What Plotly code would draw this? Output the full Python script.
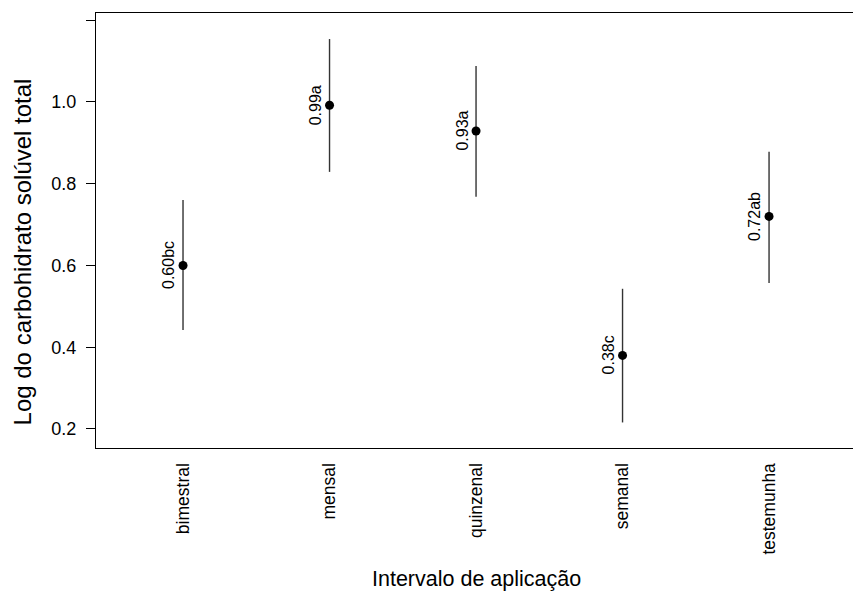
import plotly.graph_objects as go

categories = ["bimestral", "mensal", "quinzenal", "semanal", "testemunha"]
means = [0.600, 0.992, 0.929, 0.380, 0.720]
lower = [0.442, 0.829, 0.768, 0.216, 0.557]
upper = [0.760, 1.154, 1.088, 0.543, 0.878]
letters = ["bc", "a", "a", "c", "ab"]
ytick_vals = [0.2, 0.4, 0.6, 0.8, 1.0, 1.2]
ytick_text = ["0.2", "0.4", "0.6", "0.8", "1.0", ""]

FONT = "Liberation Sans, Arial, sans-serif"
xs = list(range(len(categories)))

fig = go.Figure()
fig.add_trace(go.Scatter(
    x=xs, y=means, mode="markers",
    marker=dict(color="black", size=9),
    error_y=dict(type="data", symmetric=False,
                 array=[u - m for u, m in zip(upper, means)],
                 arrayminus=[m - l for m, l in zip(means, lower)],
                 width=0, thickness=1.4, color="#333333"),
    showlegend=False, hoverinfo="skip",
))

for x, m, l in zip(xs, means, letters):
    fig.add_annotation(x=x, y=m, xref="x", yref="y", text=f"{m:.2f}{l}",
                       textangle=-90, showarrow=False, xanchor="right",
                       yanchor="middle", xshift=-4,
                       font=dict(family=FONT, size=16, color="black"))

fig.add_annotation(xref="paper", yref="paper", x=-0.0975, y=0.45, text="Log do carbohidrato solúvel total",
                   textangle=-90, showarrow=False, xanchor="center", yanchor="middle",
                   font=dict(family=FONT, size=24, color="black"))
fig.add_annotation(x=2, xref="x", y=(592 - 579 - 144) / (592 - 13 - 144), yref="paper",
                   text="Intervalo de aplicação",
                   showarrow=False, xanchor="center", yanchor="middle",
                   font=dict(family=FONT, size=21.5, color="black"))

fig.update_xaxes(range=[-0.594, 4.573], tickvals=xs, ticktext=categories,
                 tickangle=-90, ticks="", showline=True, linecolor="black",
                 linewidth=1.3, mirror=True, showgrid=False, zeroline=False,
                 tickfont=dict(family=FONT, size=17.5, color="black"),
                 ticklabelstandoff=7)
fig.update_yaxes(range=[0.1535, 1.2177], tickvals=ytick_vals, ticktext=ytick_text,
                 ticks="outside", ticklen=9, tickwidth=1.2, tickcolor="black",
                 showline=True, linecolor="black", linewidth=1.3, mirror=False,
                 showgrid=False, zeroline=False,
                 tickfont=dict(family=FONT, size=18, color="black"),
                 ticklabelstandoff=6)

fig.update_layout(width=853, height=592, margin=dict(l=96, r=0, t=13, b=144),
                  plot_bgcolor="white", paper_bgcolor="white",
                  font=dict(family=FONT))
fig.write_html("out.html")
